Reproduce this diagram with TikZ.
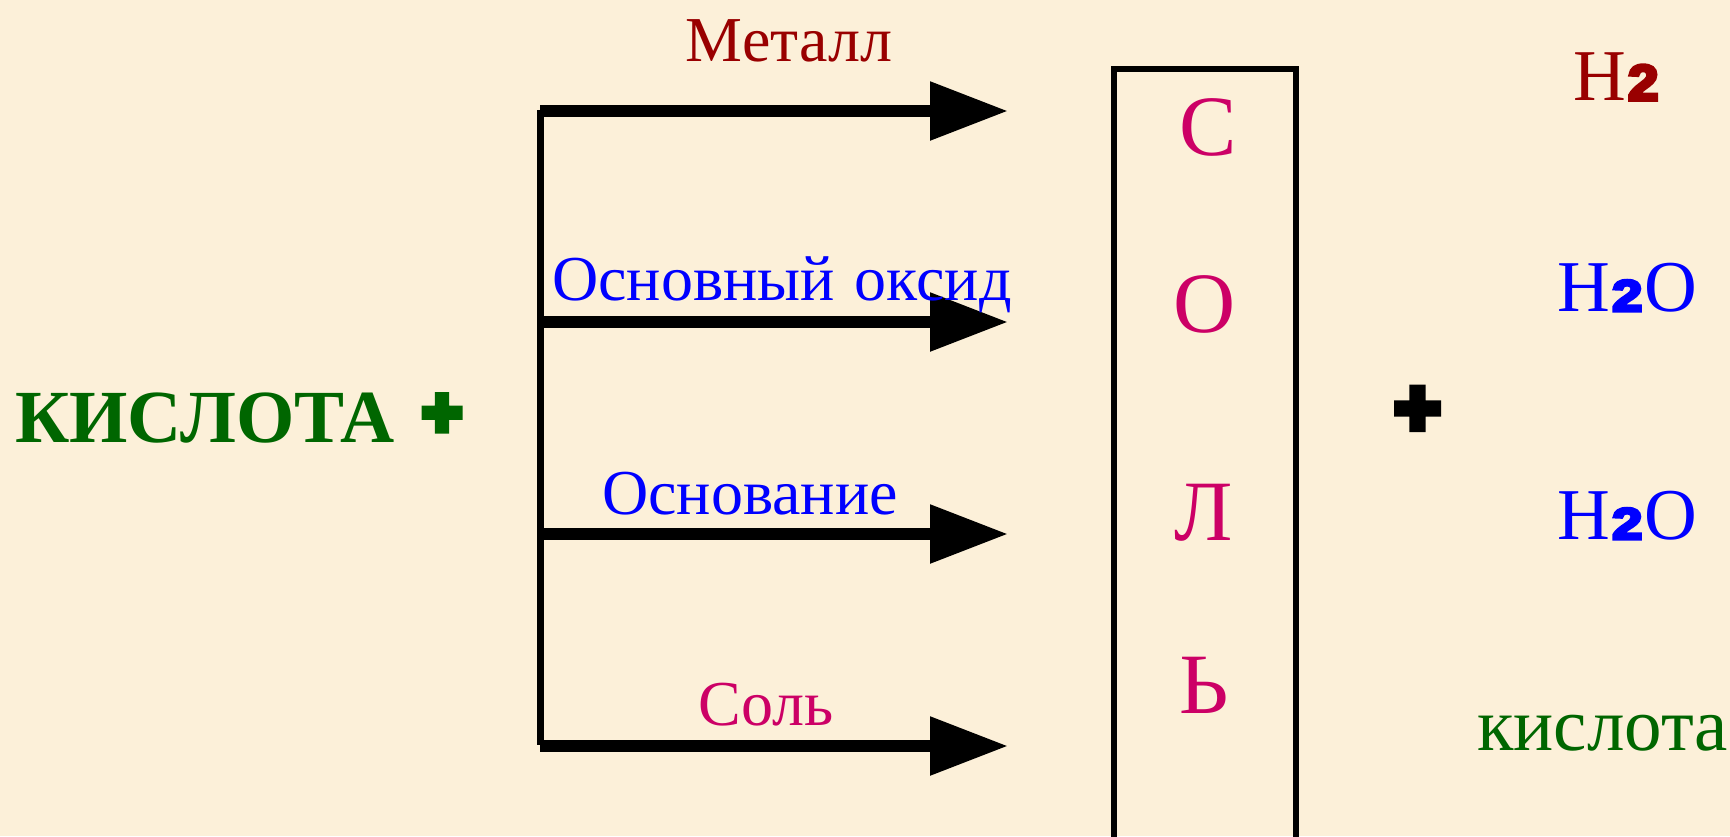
\documentclass[tikz,border=0pt]{standalone}
\usepackage{fontspec}
\setmainfont{Liberation Serif}
\newfontfamily\heavyplus[UprightFont={* Bold},FakeBold=10]{Liberation Sans}
\newfontfamily\twoA[UprightFont={* Bold},FakeBold=7,FakeStretch=1.1]{Liberation Sans}
\newfontfamily\twoB[UprightFont={* Bold},FakeBold=7,FakeStretch=1.25]{Liberation Sans}
\usetikzlibrary{arrows.meta}
\definecolor{bg}{RGB}{252,240,217}
\definecolor{metal}{RGB}{153,0,0}
\definecolor{acid}{RGB}{0,102,0}
\definecolor{salt}{RGB}{204,0,102}
\definecolor{oxid}{RGB}{0,0,255}
\tikzset{
  lbl/.style={anchor=base, inner sep=0pt, font=\fontsize{64}{70}\selectfont},
  letter/.style={anchor=base, inner sep=0pt, text=salt, font=\fontsize{86}{90}\selectfont},
  prod/.style={anchor=base west, inner sep=0pt, font=\fontsize{73}{80}\selectfont},
  branch/.style={line width=12pt, -{Triangle[length=78pt,width=56pt]}},
  trunk/.style={line width=7pt},
  plussign/.style={inner sep=0pt, font=\heavyplus\fontsize{78}{80}\selectfont},
}
\newcommand{\twoh}{\kern2pt{\twoA\fontsize{50}{55}\selectfont 2}}
\newcommand{\twow}{\kern2pt{\twoB\fontsize{44}{55}\selectfont 2}\kern2pt}
\begin{document}
\begin{tikzpicture}[x=1pt,y=-1pt]
\useasboundingbox (0,0) rectangle (1730,836);
\fill[bg] (0,0) rectangle (1730,836);
% left side
\node[anchor=base west, inner sep=0pt, text=acid, font=\bfseries\fontsize{75}{80}\selectfont] (kislota) at (15,442) {КИСЛОТА};
\node[plussign, text=acid, font=\heavyplus\fontsize{68}{70}\selectfont] (plusL) at (442,415.5) {+};
% trunk and branches
\coordinate (ttop) at (540,110);
\coordinate (tbot) at (540,745);
\draw[trunk] (ttop) -- (tbot);
\coordinate (s1) at (540,111);
\coordinate (s2) at (540,322);
\coordinate (s3) at (540,534);
\coordinate (s4) at (540,746);
\coordinate (e1) at (1008,111);
\coordinate (e2) at (1008,322);
\coordinate (e3) at (1008,534);
\coordinate (e4) at (1008,746);
\draw[branch] (s1) -- (e1);
\draw[branch] (s2) -- (e2);
\draw[branch] (s3) -- (e3);
\draw[branch] (s4) -- (e4);
% branch labels
\node[lbl, text=metal] (metall) at (789,61) {Металл};
\node[lbl, text=oxid] (oksid) at (782,300) {Основный\kern4pt{} оксид};
\node[lbl, text=oxid] (osnov) at (750,514) {Основание};
\node[lbl, text=salt] (sol) at (766,725) {Соль};
% salt box
\node[draw, line width=6.5pt, minimum width=182pt, minimum height=800pt, anchor=north, inner sep=0pt] (box) at (1205,65.5) {};
\node[letter] (l1) at (1208,155) {С};
\node[letter] (l2) at (1205,332) {О};
\node[letter] (l3) at (1204,540) {Л};
\node[letter] (l4) at (1204,713) {Ь};
% right side
\node[plussign, text=black] (plusR) at (1417.5,411.5) {+};
\node[prod, text=metal] (h2) at (1573,100) {H\twoh};
\node[prod, text=oxid] (h2o1) at (1557,311) {H\twow O};
\node[prod, text=oxid] (h2o2) at (1557,539) {H\twow O};
\node[prod, text=acid, font=\fontsize{75}{80}\selectfont] (kisl2) at (1477,750) {кислота};
\end{tikzpicture}
\end{document}
